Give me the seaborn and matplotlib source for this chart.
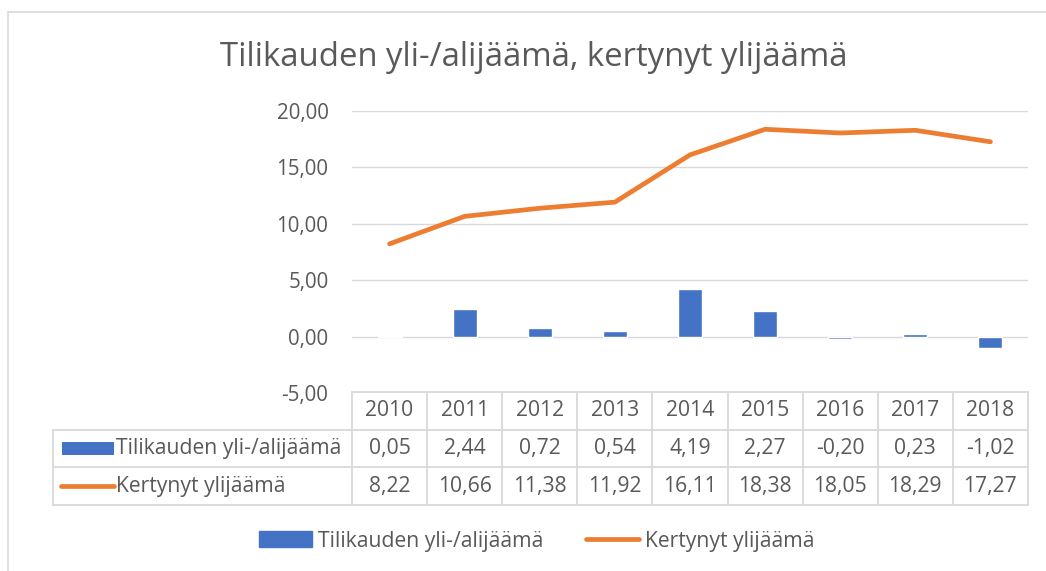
import numpy as np
import seaborn as sns
import matplotlib.pyplot as plt
from matplotlib.patches import Rectangle, Patch
from matplotlib.lines import Line2D

years = ["2010", "2011", "2012", "2013", "2014", "2015", "2016", "2017", "2018"]
tilikauden = [0.05, 2.44, 0.72, 0.54, 4.19, 2.27, -0.20, 0.23, -1.02]
kertynyt = [8.22, 10.66, 11.38, 11.92, 16.11, 18.38, 18.05, 18.29, 17.27]
y_ticks = [-5, 0, 5, 10, 15, 20]
title = "Tilikauden yli-/alijäämä, kertynyt ylijäämä"
bar_label = "Tilikauden yli-/alijäämä"
line_label = "Kertynyt ylijäämä"

BLUE = "#4472C4"
ORANGE = "#ED7D31"
TXT = "#595959"
GRID = "#D9D9D9"
FS = 15.2

sns.set_style("white")
plt.rcParams['font.family'] = ['Open Sans', 'DejaVu Sans']


def fi(v):
    return f"{v:.2f}".replace(".", ",")


W, H = 1046, 571
fig = plt.figure(figsize=(W / 100, H / 100), dpi=100)

# chart border
fig.patches.append(Rectangle((8 / W, -0.1), 1.2, (H - 12) / H + 0.1, transform=fig.transFigure,
                             fill=False, edgecolor=GRID, lw=1.2))

fig.text(534 / W, 1 - 57 / H, title, ha="center", va="center", fontsize=23.7, color=TXT)

# main plot
ax = fig.add_axes([352 / W, 1 - 393 / H, (1028 - 352) / W, (393 - 111) / H])
sns.barplot(x=years, y=tilikauden, color=BLUE, width=0.32, saturation=1, ax=ax, zorder=2)
sns.lineplot(x=np.arange(len(years)), y=kertynyt, color=ORANGE, lw=3.4, ax=ax, zorder=3,
             solid_capstyle="round")
ax.set_xlim(-0.5, len(years) - 0.5)
ax.set_ylim(-5, 20)
ax.set_yticks(y_ticks)
ax.set_yticklabels([fi(v) for v in y_ticks])
ax.tick_params(axis="y", length=0, pad=17, labelsize=14.8, labelcolor=TXT)
ax.set_xticks([])
ax.set_xlabel("")
ax.set_ylabel("")
ax.grid(axis="y", color=GRID, lw=1)
ax.set_axisbelow(True)
sns.despine(ax=ax, left=True, bottom=True)

# data table
unit = (1028 - 352) / len(years)
xl = -0.5 - (352 - 53) / unit
tab = fig.add_axes([53 / W, 1 - 505 / H, (1028 - 53) / W, (505 - 392) / H])
tab.set_xlim(xl, len(years) - 0.5)
tab.set_ylim(3, 0)
tab.axis("off")
lk = dict(color=GRID, lw=1.3, clip_on=False)
tab.plot([-0.5, len(years) - 0.5], [0, 0], **lk)
for r in [1, 2, 3]:
    tab.plot([xl, len(years) - 0.5], [r, r], **lk)
for k in range(len(years) + 1):
    tab.plot([k - 0.5, k - 0.5], [0, 3], **lk)
tab.plot([xl, xl], [1, 3], **lk)

for i, yr in enumerate(years):
    tab.text(i, 0.5, yr, ha="center", va="center", fontsize=FS, color=TXT)
    tab.text(i, 1.5, fi(tilikauden[i]), ha="center", va="center", fontsize=FS, color=TXT)
    tab.text(i, 2.5, fi(kertynyt[i]), ha="center", va="center", fontsize=FS, color=TXT)

px = lambda p: xl + (p - 53) / unit
rowpx = (505 - 392) / 3
tab.add_patch(Rectangle((px(62), 1.5 - 6.5 / rowpx), px(114) - px(62), 13 / rowpx,
                        color=BLUE, lw=0, clip_on=False))
tab.plot([px(61), px(114)], [2.5, 2.5], color=ORANGE, lw=3.4, solid_capstyle="round", clip_on=False)
tab.text(px(116), 1.5, bar_label, ha="left", va="center", fontsize=FS, color=TXT)
tab.text(px(116), 2.5, line_label, ha="left", va="center", fontsize=FS, color=TXT)

handles = [Patch(color=BLUE, label=bar_label),
           Line2D([], [], color=ORANGE, lw=3.4, label=line_label)]
fig.legend(handles=handles, loc="center", bbox_to_anchor=(537 / W, 1 - 541 / H), ncol=2,
           frameon=False, fontsize=FS, handlelength=2.5, handleheight=0.75,
           columnspacing=2.0, handletextpad=0.3, labelcolor=TXT)

fig.savefig("out.png", dpi=100)
